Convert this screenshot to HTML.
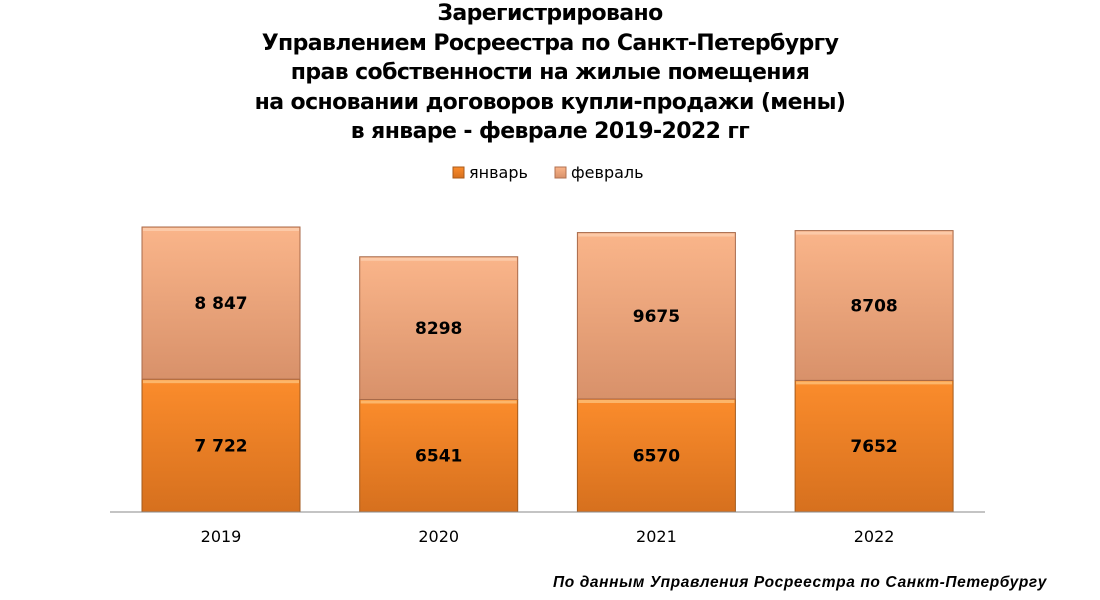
<!DOCTYPE html>
<html><head><meta charset="utf-8"><style>
body{margin:0;width:1100px;height:600px;background:#fff;overflow:hidden;font-family:"Liberation Sans","DejaVu Sans",sans-serif}
#title{position:absolute;left:0;top:-1px;width:1100px;text-align:center;font:bold 22px/29.5px "DejaVu Sans","Liberation Sans",sans-serif;color:#000;letter-spacing:-0.6px}
#src{position:absolute;right:53px;top:574px;font:italic bold 15.5px "Liberation Sans",sans-serif;letter-spacing:0.6px}
</style></head><body>
<div id="title">Зарегистрировано<br>Управлением Росреестра по Санкт-Петербургу<br>прав собственности на жилые помещения<br>на основании договоров купли-продажи (мены)<br>в январе - феврале 2019-2022 гг</div>
<svg id="chart" width="1100" height="600" style="position:absolute;left:0;top:0">
<defs>
<linearGradient id="gJan" x1="0" y1="0" x2="0" y2="1"><stop offset="0" stop-color="#fb8c2c"/><stop offset="1" stop-color="#d6701e"/></linearGradient>
<linearGradient id="gFeb" x1="0" y1="0" x2="0" y2="1"><stop offset="0" stop-color="#fab58a"/><stop offset="1" stop-color="#d8916a"/></linearGradient>
</defs>
<g id="legend">
<rect x="453" y="167" width="11" height="11" fill="url(#gJan)" stroke="#a85a1a"/>
<text x="469" y="178" font-size="16" font-family="DejaVu Sans,Liberation Sans,sans-serif">январь</text>
<rect x="555" y="167" width="11" height="11" fill="url(#gFeb)" stroke="#b07050"/>
<text x="571" y="178" font-size="16" font-family="DejaVu Sans,Liberation Sans,sans-serif">февраль</text>
</g>
<g id="bars"></g>
<line x1="110" y1="512" x2="985" y2="512" stroke="#888"/>
</svg>
<div id="src">По данным Управления Росреестра по Санкт-Петербургу</div>
<script>
const categories=["2019","2020","2021","2022"];
const janValues=[7722,6541,6570,7652];
const febValues=[8847,8298,9675,8708];
const janLabels=["7 722","6541","6570","7652"];
const febLabels=["8 847","8298","9675","8708"];
const NS="http://www.w3.org/2000/svg";
const g=document.getElementById("bars");
const base=512, k=285/16569, x0=142, step=217.7, bw=158;
const y=v=>base-v*k;
const xs=i=>x0+i*step;
function mk(tag,attrs){const e=document.createElementNS(NS,tag);for(const a in attrs)e.setAttribute(a,attrs[a]);g.appendChild(e);return e;}
categories.forEach((c,i)=>{
  const x=xs(i), yj=y(janValues[i]), yf=y(janValues[i]+febValues[i]);
  const r1=mk("rect",{x:x,y:yj,width:bw,height:base-yj,fill:"url(#gJan)",stroke:"#a35a1c","stroke-width":1});
  
  
  const r2=mk("rect",{x:x,y:yf,width:bw,height:yj-yf,fill:"url(#gFeb)",stroke:"#a86a4a","stroke-width":1});
  
  
  const hl1=mk("rect",{x:x+1,y:yj+1,width:bw-2,height:3,fill:"#fdc07a",opacity:0.8});
  
  
  const hl2=mk("rect",{x:x+1,y:yf+1,width:bw-2,height:3,fill:"#fdd0b0",opacity:0.8});
  
  
  const t1=mk("text",{x:x+bw/2,y:(yj+base)/2+6,"text-anchor":"middle","font-size":17,"font-weight":"bold","font-family":"DejaVu Sans,Liberation Sans,sans-serif"});
  t1.textContent=janLabels[i];
  
  
  const t2=mk("text",{x:x+bw/2,y:(yf+yj)/2+6,"text-anchor":"middle","font-size":17,"font-weight":"bold","font-family":"DejaVu Sans,Liberation Sans,sans-serif"});
  t2.textContent=febLabels[i];
  
  
  const t3=mk("text",{x:x+bw/2,y:542,"text-anchor":"middle","font-size":16,"font-family":"DejaVu Sans,Liberation Sans,sans-serif"});
  t3.textContent=c;
  
  
});
</script>
</body></html>
